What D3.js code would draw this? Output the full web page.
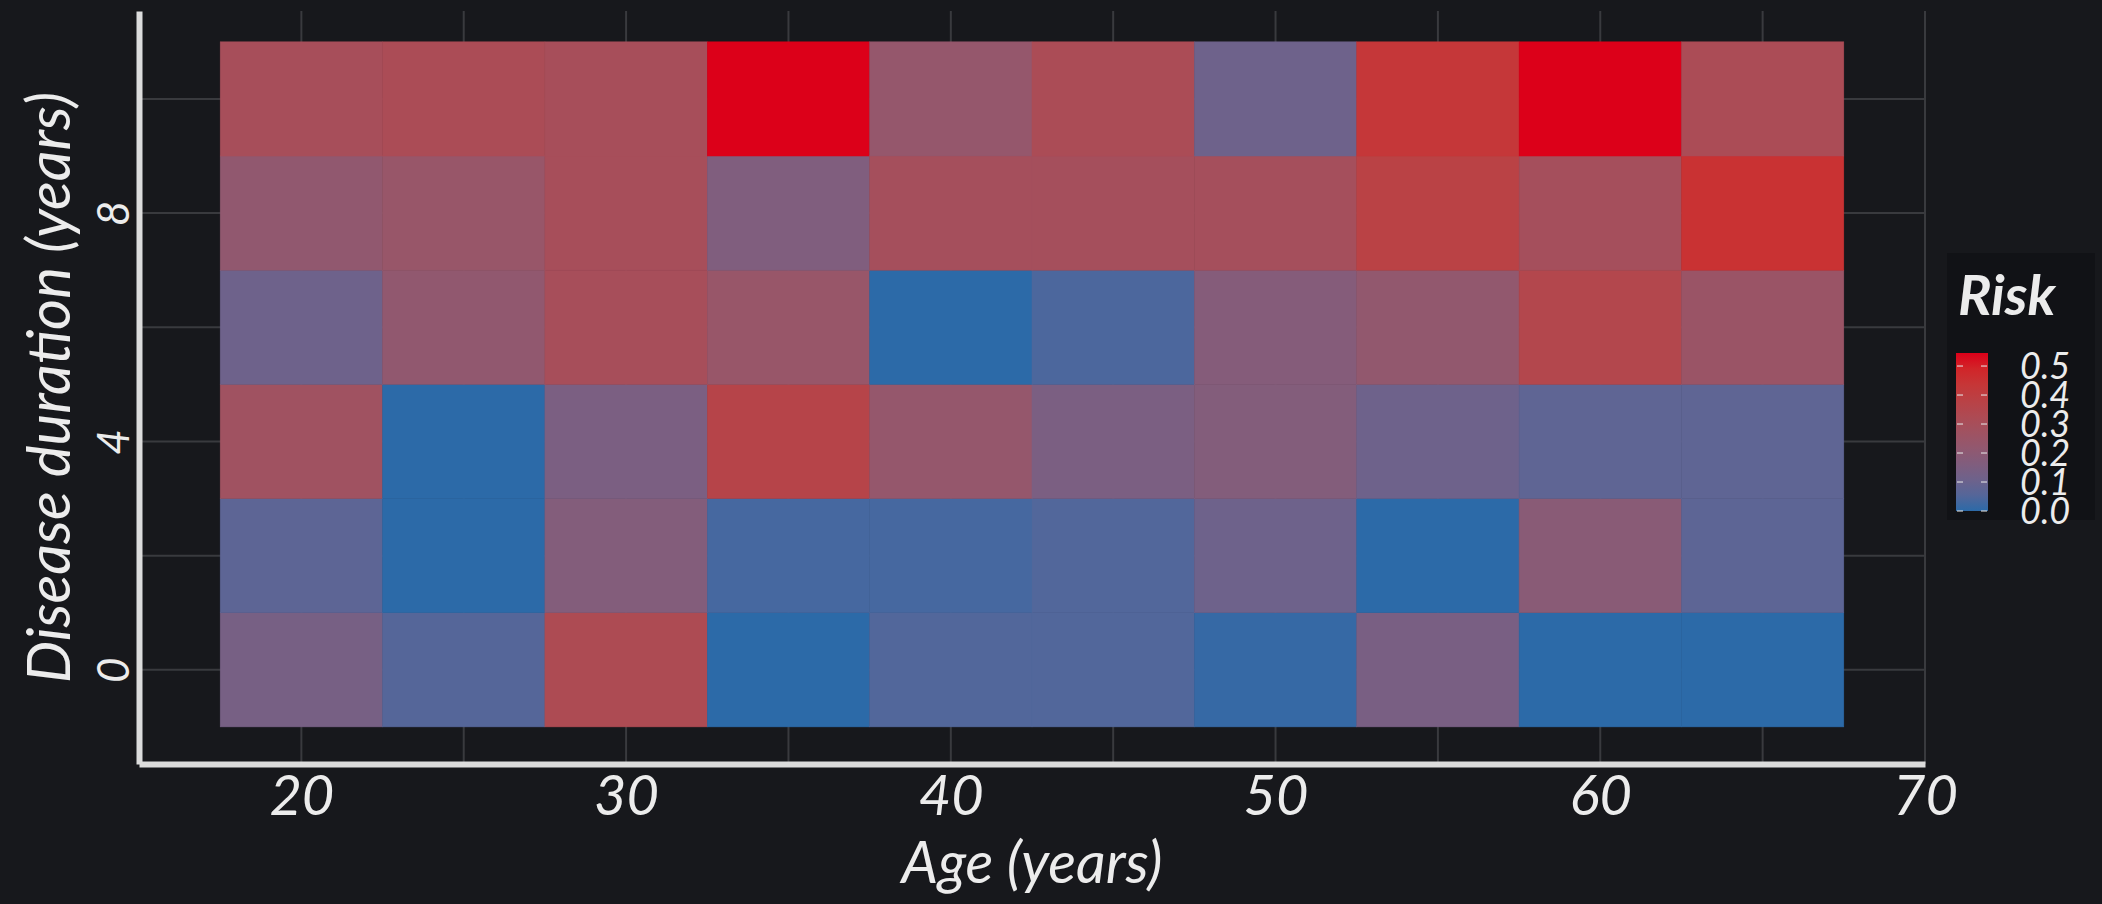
<!DOCTYPE html>
<html>
<head>
<meta charset="utf-8">
<script src="https://cdn.jsdelivr.net/npm/d3@7"></script>
<style>
  body { margin: 0; background: #17181c; }
  text { font-family: "Humor Sans", "Comic Sans MS", Lato, sans-serif; fill: #ececec; font-style: italic; }
</style>
</head>
<body>
<svg id="chart"></svg>
<script>
// heatmap data: rows = disease duration, columns = age
const ages = [20, 25, 30, 35, 40, 45, 50, 55, 60, 65];
const durations = [0, 2, 4, 6, 8, 10];
const riskD0  = [0.135, 0.055, 0.325, 0.0,   0.05, 0.05,  0.01,  0.14, 0.0,   0.0];
const riskD2  = [0.07,  0.0,   0.17,  0.03,  0.03, 0.05,  0.11,  0.0,  0.19,  0.07];
const riskD4  = [0.27,  0.0,   0.145, 0.365, 0.23, 0.145, 0.17,  0.11, 0.075, 0.075];
const riskD6  = [0.11,  0.215, 0.30,  0.24,  0.0,  0.04,  0.175, 0.22, 0.35,  0.25];
const riskD8  = [0.215, 0.24,  0.30,  0.16,  0.29, 0.29,  0.29,  0.38, 0.29,  0.45];
const riskD10 = [0.30,  0.315, 0.30,  0.545, 0.23, 0.315, 0.11,  0.43, 0.545, 0.315];
const riskRows = [riskD0, riskD2, riskD4, riskD6, riskD8, riskD10];

const xTicks = [20, 30, 40, 50, 60, 70];
const xGrid = [20, 25, 30, 35, 40, 45, 50, 55, 60, 65, 70];
const yTicks = [0, 4, 8];
const yGrid = [0, 2, 4, 6, 8, 10];
const legendTicks = [0, 0.1, 0.2, 0.3, 0.4, 0.5];

const width = 2102, height = 904;
const cellW = 5, cellH = 2;

let cells = [];
durations.forEach((d, i) => {
    ages.forEach((a, j) => {
        cells.push({age: a, dur: d, value: riskRows[i][j]});
    });
});

let svg = d3.select("#chart")
    .attr("width", width)
    .attr("height", height)
    .style("background-color", "#17181c");

let x = d3.scaleLinear().domain([15, 70]).range([139, 1925]);
let y = d3.scaleLinear().domain([-1.65, 11.54]).range([764, 11]);

let maxRisk = d3.max(cells, d => d.value);
let color = d3.scaleSequential(d3.interpolateLab("#2c6aa8", "#dc0019")).domain([0, maxRisk]);

// grid
svg.append("g")
    .selectAll("line")
    .data(xGrid)
    .join("line")
    .attr("x1", d => x(d))
    .attr("x2", d => x(d))
    .attr("y1", y.range()[1])
    .attr("y2", y.range()[0])
    .attr("stroke", "#393a3e")
    .attr("stroke-width", 2);

svg.append("g")
    .selectAll("line")
    .data(yGrid)
    .join("line")
    .attr("x1", x.range()[0])
    .attr("x2", x.range()[1])
    .attr("y1", d => y(d))
    .attr("y2", d => y(d))
    .attr("stroke", "#393a3e")
    .attr("stroke-width", 2);

// cells
svg.append("g")
    .selectAll("rect")
    .data(cells)
    .join("rect")
    .attr("x", d => x(d.age - cellW / 2))
    .attr("y", d => y(d.dur + cellH / 2))
    .attr("width", d => x(d.age + cellW / 2) - x(d.age - cellW / 2))
    .attr("height", d => y(d.dur - cellH / 2) - y(d.dur + cellH / 2))
    .attr("fill", d => color(d.value))
    .attr("stroke", d => color(d.value))
    .attr("stroke-width", 0.5);

// x axis
let xAxis = svg.append("g")
    .attr("transform", `translate(0,${y.range()[0]})`)
    .call(d3.axisBottom(x).tickValues(xTicks).tickSize(0).tickSizeOuter(0).tickPadding(11));
xAxis.select(".domain").attr("stroke", "#dcdcdc").attr("stroke-width", 6);
xAxis.selectAll("text")
    .attr("font-size", "56px")
    .attr("font-family", null)
    .attr("fill", "#ececec");

// y axis
let yAxis = svg.append("g")
    .attr("transform", `translate(${x.range()[0]},0)`)
    .call(d3.axisLeft(y).tickValues(yTicks).tickSize(0).tickSizeOuter(0));
yAxis.select(".domain").attr("stroke", "#dcdcdc").attr("stroke-width", 6);
yAxis.selectAll("text")
    .attr("font-size", "44px")
    .attr("font-family", null)
    .attr("fill", "#ececec")
    .attr("x", 0)
    .attr("y", -10)
    .attr("dy", 0)
    .attr("text-anchor", "middle")
    .attr("transform", "rotate(-90)");

// axis titles
svg.append("text")
    .attr("x", (x.range()[0] + x.range()[1]) / 2)
    .attr("y", 883)
    .attr("text-anchor", "middle")
    .attr("font-size", "58px")
    .text("Age (years)");

svg.append("text")
    .attr("transform", `translate(70,${(y.range()[0] + y.range()[1]) / 2}) rotate(-90)`)
    .attr("text-anchor", "middle")
    .attr("font-size", "60px")
    .text("Disease duration (years)");

// colorbar legend
let legend = svg.append("g");
legend.append("rect")
    .attr("x", 1947)
    .attr("y", 253)
    .attr("width", 148)
    .attr("height", 267)
    .attr("fill", "#111216");

legend.append("text")
    .attr("x", 1958)
    .attr("y", 315)
    .attr("font-size", "56px")
    .attr("font-weight", "bold")
    .text("Risk");

let ly = d3.scaleLinear().domain([0, maxRisk]).range([511, 353]);

let grad = svg.append("defs").append("linearGradient")
    .attr("id", "riskGrad")
    .attr("x1", 0).attr("y1", 1).attr("x2", 0).attr("y2", 0);
grad.selectAll("stop")
    .data(d3.range(0, 1.001, 0.1))
    .join("stop")
    .attr("offset", d => d)
    .attr("stop-color", d => color(d * maxRisk));

legend.append("rect")
    .attr("x", 1956)
    .attr("y", ly.range()[1])
    .attr("width", 32)
    .attr("height", ly.range()[0] - ly.range()[1])
    .attr("fill", "url(#riskGrad)");

legend.selectAll(".tickmark")
    .data(legendTicks.flatMap(t => [[t, 1957], [t, 1981]]))
    .join("line")
    .attr("x1", d => d[1])
    .attr("x2", d => d[1] + 6)
    .attr("y1", d => ly(d[0]))
    .attr("y2", d => ly(d[0]))
    .attr("stroke", "#e6e6e6")
    .attr("stroke-opacity", 0.7)
    .attr("stroke-width", 1.5);

// labels overlap in the original too (bar is short for the font)
legend.selectAll(".ticklabel")
    .data(legendTicks)
    .join("text")
    .attr("x", 2020)
    .attr("y", d => ly(d))
    .attr("dy", "0.36em")
    .attr("font-size", "36px")
    .text(d3.format(".1f"));
</script>
</body>
</html>
